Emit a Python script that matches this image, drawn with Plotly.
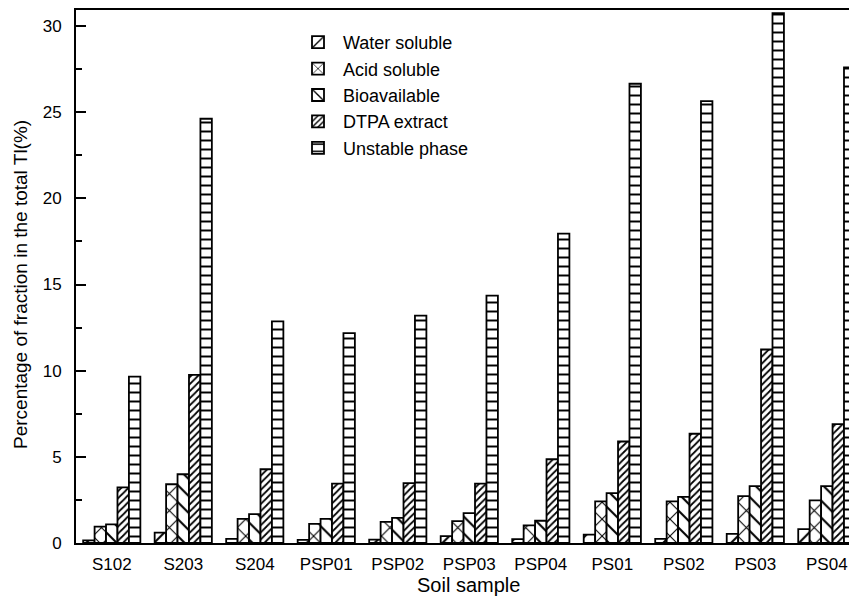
import plotly.graph_objects as go

samples = ["S102", "S203", "S204", "PSP01", "PSP02", "PSP03", "PSP04",
           "PS01", "PS02", "PS03", "PS04"]
water_soluble = [0.15, 0.60, 0.24, 0.18, 0.20, 0.40, 0.22, 0.49, 0.24, 0.53, 0.80]
acid_soluble = [0.95, 3.41, 1.40, 1.11, 1.23, 1.27, 1.02, 2.41, 2.41, 2.72, 2.47]
bioavailable = [1.08, 3.99, 1.67, 1.40, 1.46, 1.73, 1.29, 2.89, 2.68, 3.30, 3.30]
dtpa_extract = [3.23, 9.76, 4.28, 3.45, 3.47, 3.45, 4.86, 5.89, 6.34, 11.23, 6.90]
unstable_phase = [9.66, 24.62, 12.86, 12.18, 13.20, 14.36, 17.95, 26.65, 25.64, 30.75, 27.60]

series = [
    ("Water soluble", water_soluble, dict(shape="/", size=12, solidity=0.17)),
    ("Acid soluble", acid_soluble, dict(shape="x", size=12, solidity=0.17)),
    ("Bioavailable", bioavailable, dict(shape="\\", size=12, solidity=0.17)),
    ("DTPA extract", dtpa_extract, dict(shape="/", size=5, solidity=0.35)),
    ("Unstable phase", unstable_phase, dict(shape="-", size=9, solidity=0.22)),
]

FONT = "Liberation Sans, Arial, sans-serif"

fig = go.Figure()
for name, vals, pat in series:
    fig.add_trace(go.Bar(
        x=samples, y=vals, name=name,
        marker=dict(color="white",
                    line=dict(color="black", width=1.8),
                    pattern=dict(fgcolor="black", bgcolor="white", fillmode="replace", **pat)),
    ))

W, H = 849, 599
L, T, B, R = 76, 10, 56, 0
pw, ph = W - L - R, H - T - B

def px_x(px):
    return (px - L) / pw

def px_y(py):
    return (H - B - py) / ph

fig.update_layout(
    width=W, height=H,
    margin=dict(l=L, r=R, t=T, b=B, pad=0),
    paper_bgcolor="white", plot_bgcolor="white",
    barmode="group", bargap=0.2, bargroupgap=0,
    font=dict(family=FONT, color="black", size=17),
    showlegend=True,
    legend=dict(x=px_x(293), y=px_y(24), xanchor="left", yanchor="top",
                bgcolor="rgba(0,0,0,0)", borderwidth=0,
                font=dict(size=18, family=FONT, color="black"),
                tracegroupgap=0, itemwidth=40),
    xaxis=dict(range=[-0.5, 10.31], showline=True, linecolor="black", linewidth=2,
               mirror=True, ticks="", showgrid=False, zeroline=False,
               tickfont=dict(size=17), ticklabelstandoff=5, fixedrange=True),
    yaxis=dict(range=[0, 30.93], showline=True, linecolor="black", linewidth=2,
               ticks="inside", ticklen=10, tickwidth=2, tickcolor="black",
               dtick=5, tick0=0, showgrid=False, zeroline=False,
               tickfont=dict(size=17), ticklabelstandoff=9,
               minor=dict(dtick=2.5, ticks="inside", ticklen=6, tickwidth=2,
                          tickcolor="black", showgrid=False)),
    annotations=[
        dict(text="Percentage of fraction in the total Tl(%)", textangle=-90,
             xref="paper", yref="paper", x=px_x(20), y=px_y(285),
             xanchor="center", yanchor="middle", showarrow=False,
             font=dict(size=19, family=FONT, color="black")),
        dict(text="Soil sample",
             xref="paper", yref="paper", x=px_x(468), y=px_y(585),
             xanchor="center", yanchor="middle", showarrow=False,
             font=dict(size=20, family=FONT, color="black")),
    ],
)

fig.write_html("out.html")
